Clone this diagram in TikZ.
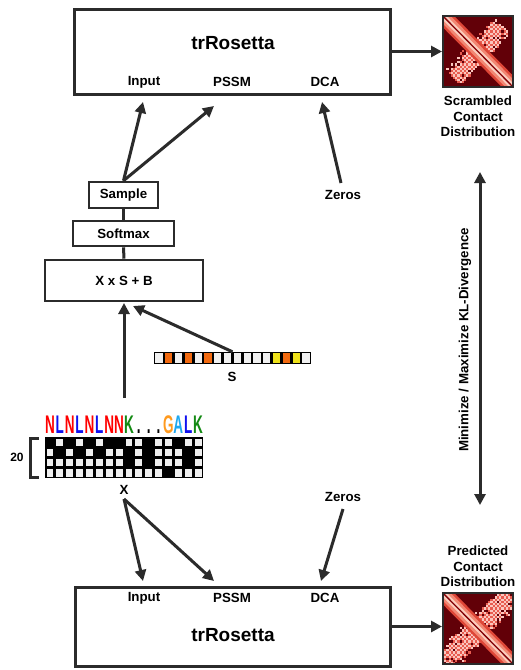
\documentclass[tikz,border=0pt]{standalone}
\usepackage{fontspec}
\setmainfont{Liberation Sans}
\usetikzlibrary{arrows.meta,calc}
\definecolor{ln}{HTML}{2B2B2B}
\definecolor{hmbg}{RGB}{98,0,8}
\definecolor{hmA}{RGB}{222,70,55}
\definecolor{hmB}{RGB}{242,135,115}
\definecolor{hmC}{RGB}{251,205,190}
\definecolor{hmD}{RGB}{130,0,5}
\definecolor{spk}{RGB}{232,92,80}
\definecolor{spw}{RGB}{250,198,190}
\definecolor{cellw}{HTML}{F0F0F0}
\definecolor{sor}{HTML}{F26A10}
\definecolor{syl}{HTML}{EEE11A}
\definecolor{lgN}{HTML}{FF0000}
\definecolor{lgL}{HTML}{1010F0}
\definecolor{lgK}{HTML}{138A13}
\definecolor{lgG}{HTML}{FF9A1E}
\definecolor{lgA}{HTML}{1EA8F0}
\tikzset{
  box/.style={draw=ln, line width=3pt, fill=white, inner sep=0pt},
  sbox/.style={draw=ln, line width=2.6pt, fill=white, inner sep=0pt},
  lbl/.style={font=\fontsize{13.3}{15}\selectfont\bfseries, inner sep=1pt},
  big/.style={font=\fontsize{19}{22}\selectfont\bfseries, inner sep=1pt},
  arr/.style={draw=ln, line width=3pt, -{Triangle[length=11pt,width=11pt]}},
  darr/.style={draw=ln, line width=3pt, {Triangle[length=11pt,width=11pt]}-{Triangle[length=11pt,width=11pt]}},
  plain/.style={draw=ln, line width=3pt},
  hmframe/.style={draw=ln, line width=2pt, minimum width=70pt, minimum height=71pt, inner sep=0pt},
  seqlet/.style={anchor=base, inner sep=0pt, font=\fontsize{25.5}{26}\selectfont\bfseries},
}
\newcommand{\hmdraw}[5]{%
  \begin{scope}[shift={(#1.north west)}]
    \begin{scope}
      \clip (0,0) rectangle (70,71);
      \fill[hmbg] (0,0) rectangle (70,71);
      \foreach \i in {1,...,#5}{
        \pgfmathsetmacro{\tA}{#2+(#3-#2)*rnd}
        \pgfmathsetmacro{\oA}{(rnd+rnd-1)*#4}
        \pgfmathsetmacro{\px}{2.2*round((70*\tA+0.707*\oA)/2.2)}
        \pgfmathsetmacro{\py}{2.2*round((71*(1-\tA)+0.707*\oA)/2.2)}
        \pgfmathtruncatemacro{\pq}{mod(round(\px/2.2)+round(\py/2.2),2)}
        \ifnum\pq=0
          \fill[spw] (\px,\py) rectangle ++(2.2,2.2);
        \else
          \fill[spk] (\px,\py) rectangle ++(2.2,2.2);
        \fi
      }
      \draw[hmA, line width=16pt] (-5,-5) -- (75,76);
      \draw[hmB, line width=11pt] (-5,-5) -- (75,76);
      \draw[hmC, line width=5.5pt] (-5,-5) -- (75,76);
      \draw[hmD, line width=1.3pt] (-5,-5) -- (75,76);
    \end{scope}
  \end{scope}
  \node[hmframe] at (#1) {};
}
\begin{document}
\begin{tikzpicture}[x=1pt,y=-1pt]
\useasboundingbox (0,0) rectangle (520,670);
\fill[white] (0,0) rectangle (520,670);
\pgfmathsetseed{7}

% ---------- top trRosetta ----------
\node[box, minimum width=316pt, minimum height=85pt] (trA) at (232,51.5) {};
\node[big] (trAt) at (233,43) {trRosetta};
\node[lbl] (inA) at (144,82) {Input};
\node[lbl] (psA) at (232,82) {PSSM};
\node[lbl] (dcA) at (325,82) {DCA};
\coordinate (inAtip) at (143,102);
\coordinate (psAtip) at (214,106);
\coordinate (dcAtip) at (322,102);

% ---------- top heat map ----------
\node[hmframe] (hm1) at (478,51.5) {};
\hmdraw{hm1}{0.15}{0.85}{12}{700}
\node[lbl, align=center, font=\fontsize{13.3}{15.5}\selectfont\bfseries, anchor=north] (scr) at (478,95) {Scrambled\\Contact\\Distribution};
\draw[arr] (trA.east) -- (hm1.west);

% ---------- left chain ----------
\node[sbox, minimum width=69pt, minimum height=26pt] (samp) at (123.5,195) {};
\node[lbl] at (samp) {Sample};
\node[sbox, minimum width=101pt, minimum height=25pt] (soft) at (123.5,233.5) {};
\node[lbl] at (soft) {Softmax};
\node[sbox, minimum width=158pt, minimum height=41pt] (xsb) at (124,280.5) {};
\node[lbl] at (xsb) {X x S + B};
\draw[plain] (samp.south) -- (soft.north);
\draw[plain] (soft.south) -- (xsb.north);
\draw[arr] (samp.north) -- (inAtip);
\draw[arr] (samp.north) -- (psAtip);

\node[lbl] (zA) at (343,195) {Zeros};
\coordinate (zAtail) at (341,183);
\draw[arr] (zAtail) -- (dcAtip);

% ---------- S vector ----------
\node[minimum width=157pt, minimum height=12pt, inner sep=0pt, fill=black] (svec) at (232.5,358) {};
\foreach \c/\col in {1/cellw,2/sor,3/cellw,4/sor,5/cellw,6/sor,7/cellw,8/cellw,9/cellw,10/cellw,11/cellw,12/cellw,13/syl,14/sor,15/syl,16/cellw}{
  \fill[\col] ({154+(\c-1)*9.8125+1.3},353.3) rectangle ({154+\c*9.8125-1.3},362.7);
}
\node[lbl] (slab) at (232,377) {S};
\coordinate (xsbS) at (133,306);
\draw[arr] (svec.north) -- (xsbS);

% ---------- X matrix ----------
\coordinate (xup) at (124,398);
\coordinate (xsbX) at (124,303);
\draw[arr] (xup) -- (xsbX);
\foreach \c/\l/\col in {1/N/lgN,2/L/lgL,3/N/lgN,4/L/lgL,5/N/lgN,6/L/lgL,7/N/lgN,8/N/lgN,9/K/lgK,10/./black,11/./black,12/./black,13/G/lgG,14/A/lgA,15/L/lgL,16/K/lgK}{
  \node[seqlet, text=\col] at ({45+(\c-0.5)*9.875},433) {\scalebox{0.53}[1]{\l}};
}
\node[minimum width=158pt, minimum height=41pt, inner sep=0pt, fill=black] (xmat) at (124,457.5) {};
\foreach \r/\whites in {1/{2,4,6,9,10,12,13,15,16},2/{1,3,5,7,8,10,12,13,14,16},3/{1,2,3,4,5,6,7,8,10,12,13,14,16},4/{1,2,3,4,5,6,7,8,9,10,11,12,14,15,16}}{
  \foreach \c in \whites {
    \fill[cellw] ({45+(\c-1)*9.875+1.5},{437+(\r-1)*10.25+1.5}) rectangle ({45+\c*9.875-1.5},{437+\r*10.25-1.5});
  }
}
\draw[draw=ln, line width=3pt] (39,438.5) -- (30,438.5) -- (30,477) -- (39,477);
\node[lbl, font=\fontsize{12}{14}\selectfont\bfseries] (twenty) at (17,457) {20};
\node[lbl] (xlab) at (124,490) {X};

% ---------- bottom trRosetta ----------
\node[box, minimum width=315pt, minimum height=79pt] (trB) at (232.5,626.5) {};
\node[big] (trBt) at (233,635) {trRosetta};
\node[lbl] (inB) at (144,598) {Input};
\node[lbl] (psB) at (232,598) {PSSM};
\node[lbl] (dcB) at (325,598) {DCA};
\coordinate (inBtip) at (143,581);
\coordinate (psBtip) at (214,581);
\coordinate (dcBtip) at (321,581);
\coordinate (xdown) at (124,499);
\draw[arr] (xdown) -- (inBtip);
\draw[arr] (xdown) -- (psBtip);
\node[lbl] (zB) at (343,497) {Zeros};
\coordinate (zBtail) at (343,509);
\draw[arr] (zBtail) -- (dcBtip);

% ---------- bottom heat map ----------
\node[hmframe] (hm2) at (478,628.5) {};
\hmdraw{hm2}{0.03}{0.97}{13}{1000}
\node[lbl, align=center, font=\fontsize{13.3}{15.5}\selectfont\bfseries, anchor=south] (pred) at (478,588) {Predicted\\Contact\\Distribution};
\draw[arr] (trB.east) -- (trB.east -| hm2.west);

% ---------- KL arrow ----------
\coordinate (klTop) at (480,172);
\coordinate (klBot) at (480,505);
\draw[darr] (klTop) -- (klBot);
\node[lbl, rotate=90] (kl) at (465,340) {Minimize / Maximize KL-Divergence};
\end{tikzpicture}
\end{document}
